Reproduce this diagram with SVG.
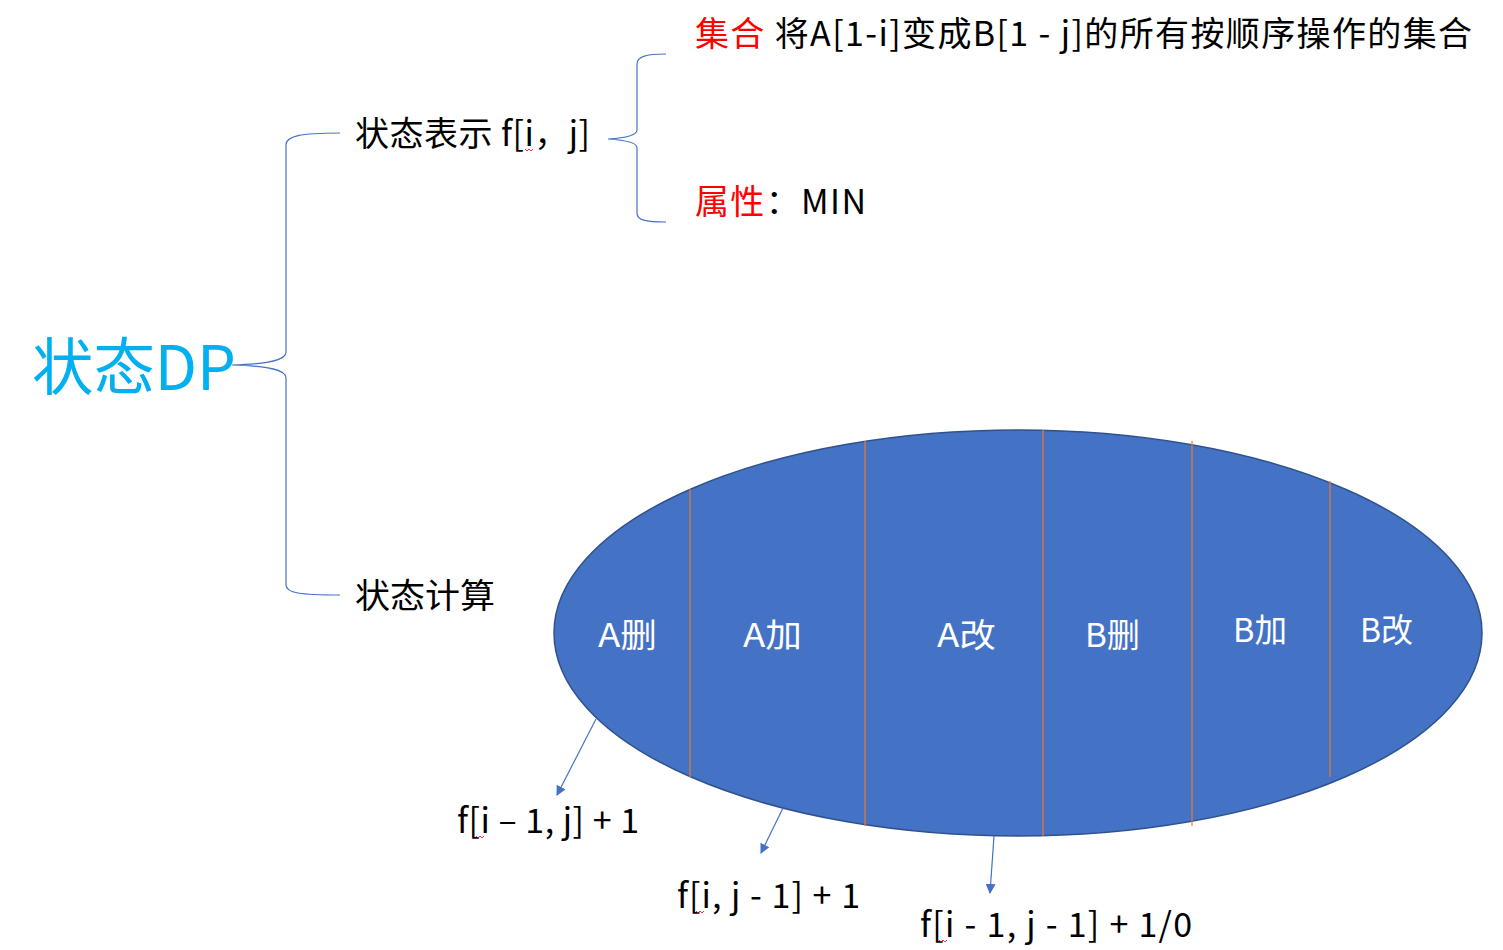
<svg xmlns="http://www.w3.org/2000/svg" width="1503" height="950" viewBox="0 0 1503 950">
<style>
text{font-family:"Noto Sans CJK SC","Liberation Sans",sans-serif;}
.t{font-size:34px;fill:#000;}
.red{fill:#FF0000;}
.w{font-size:33px;fill:#FFFFFF;}
.brace{fill:none;stroke:#4472C4;stroke-width:1.2;}
.div{stroke:#F07A2E;stroke-width:1.2;}
.arr{stroke:#4472C4;stroke-width:1.2;fill:none;marker-end:url(#ah);}
.sq{fill:none;stroke:#FF0000;stroke-width:0.8;}
</style>
<defs>
<marker id="ah" viewBox="0 0 10 10" refX="9" refY="5" markerWidth="10" markerHeight="10" markerUnits="userSpaceOnUse" orient="auto">
<path d="M0,0 L10,5 L0,10 Z" fill="#4472C4"/>
</marker>
</defs>
<rect width="1503" height="950" fill="#FFFFFF"/>

<g id="root">
<text x="32" y="390" style="font-size:62px;fill:#00B0F0;" textLength="204" lengthAdjust="spacingAndGlyphs">状态DP</text>
</g>

<g id="state-repr">
<text class="t" x="355" y="146" textLength="235" lengthAdjust="spacing">状态表示 f[i，j]</text>
<path class="sq" d="M525,149 l2,2 l2,-2 l2,2 l2,-2"/>
</g>

<g id="set">
<text class="t" x="695" y="46" textLength="777" lengthAdjust="spacing"><tspan class="red">集合</tspan> 将A[1-i]变成B[1 - j]的所有按顺序操作的集合</text>
</g>

<g id="attr">
<text class="t" x="695" y="214" textLength="171" lengthAdjust="spacing"><tspan class="red">属性</tspan>：MIN</text>
</g>

<g id="state-calc">
<text class="t" x="355" y="608" textLength="140" lengthAdjust="spacingAndGlyphs">状态计算</text>
</g>

<g id="ellipse">
<ellipse cx="1018" cy="633" rx="464" ry="203" fill="#4472C4" stroke="#2F528F" stroke-width="1.5"/>
<line class="div" x1="690" y1="489" x2="690" y2="777"/>
<line class="div" x1="865" y1="441" x2="865" y2="826"/>
<line class="div" x1="1043" y1="430" x2="1043" y2="836"/>
<line class="div" x1="1192" y1="441" x2="1192" y2="826"/>
<line class="div" x1="1330" y1="481" x2="1330" y2="777"/>
<text class="w" x="598" y="647" textLength="59" lengthAdjust="spacingAndGlyphs">A删</text>
<text class="w" x="743" y="647" textLength="59" lengthAdjust="spacingAndGlyphs">A加</text>
<text class="w" x="937" y="647" textLength="59" lengthAdjust="spacingAndGlyphs">A改</text>
<text class="w" x="1085" y="647" textLength="55" lengthAdjust="spacingAndGlyphs">B删</text>
<text class="w" x="1233" y="642" textLength="54" lengthAdjust="spacingAndGlyphs">B加</text>
<text class="w" x="1360" y="642" textLength="53" lengthAdjust="spacingAndGlyphs">B改</text>
</g>

<g id="res1">
<text class="t" x="457" y="833" textLength="182" lengthAdjust="spacing">f[i – 1, j] + 1</text>
<path class="sq" d="M476,836 l2,2 l2,-2 l2,2 l2,-2"/>
</g>
<g id="res2">
<text class="t" x="677" y="908" textLength="183" lengthAdjust="spacing">f[i, j - 1] + 1</text>
<path class="sq" d="M696,911 l2,2 l2,-2 l2,2 l2,-2"/>
</g>
<g id="res3">
<text class="t" x="920" y="937" textLength="272" lengthAdjust="spacing">f[i - 1, j - 1] + 1/0</text>
<path class="sq" d="M939,940 l2,2 l2,-2 l2,2 l2,-2"/>
</g>

<g id="connectors">
<path class="brace" d="M340,133 C300,133 286,136 286,145 L286,352 C286,360 270,364 232,365 C270,366 286,370 286,378 L286,585 C286,593 300,595 340,595"/>
<path class="brace" d="M666,54 C645,54 637,57 637,64 L637,130 C637,135 625,138 608,139 C625,140 637,143 637,148 L637,213 C637,220 645,222 666,222"/>
<line class="arr" x1="596" y1="719" x2="557" y2="795"/>
<line class="arr" x1="783" y1="808" x2="761" y2="853"/>
<line class="arr" x1="994" y1="836" x2="990" y2="893"/>
</g>
</svg>
